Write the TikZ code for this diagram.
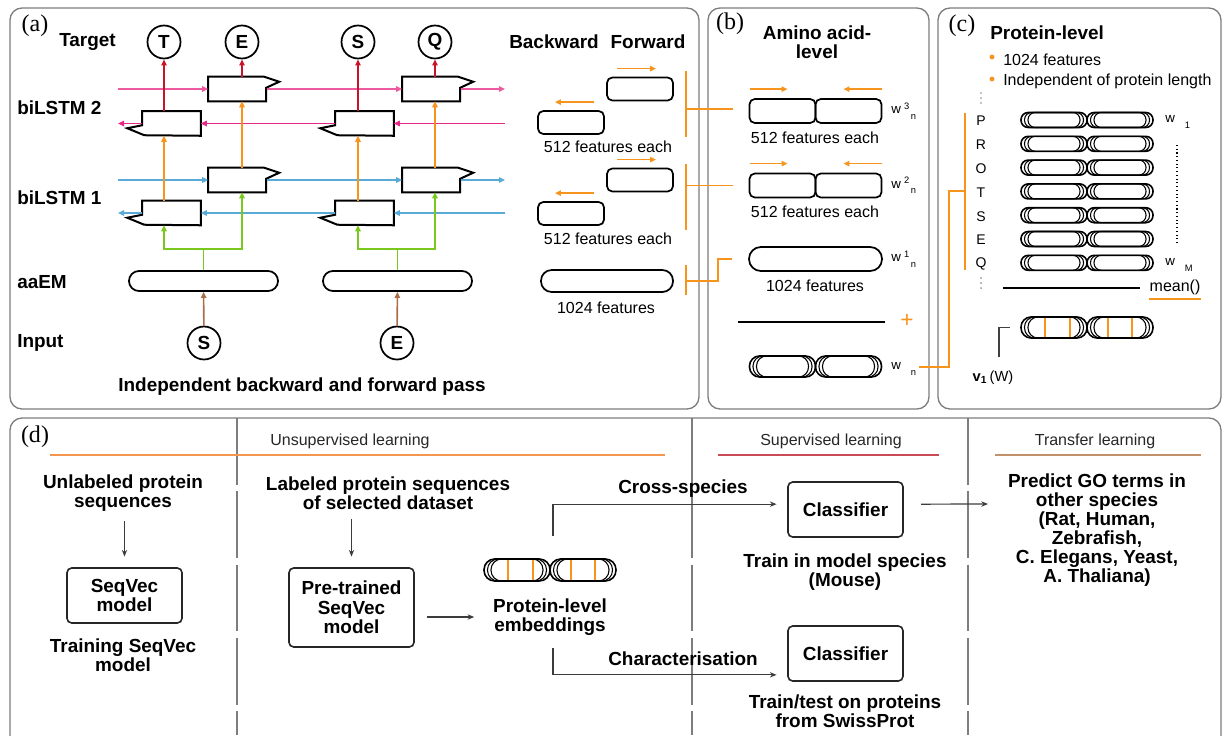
\documentclass[tikz,border=0pt]{standalone}
\usepackage{fontspec}
\setmainfont{Liberation Sans}
\newfontfamily\tagfont{Liberation Serif}
\usepackage{xcolor}
\usetikzlibrary{
    arrows.meta,
    positioning,
    calc
}

\definecolor{fwdpink}{RGB}{238,90,160}
\definecolor{bwdpink}{RGB}{232,40,135}
\definecolor{lstmblue}{RGB}{90,170,215}
\definecolor{targetred}{RGB}{200,20,40}
\definecolor{lstmorange}{RGB}{247,148,29}
\definecolor{lstmgreen}{RGB}{122,200,30}
\definecolor{embbrown}{RGB}{170,110,70}
\definecolor{framegray}{RGB}{125,125,125}
\definecolor{flowgray}{RGB}{60,60,60}
\definecolor{suplred}{RGB}{200,75,85}
\definecolor{transbrown}{RGB}{195,145,105}
\definecolor{unsuporange}{RGB}{245,150,80}

% w with raised and lowered index
\newcommand{\wlabel}[2]{w\hspace{2.5pt}\raisebox{3.5pt}{\fontsize{7}{7}\selectfont #1}\hspace{1pt}\raisebox{-4pt}{\fontsize{7}{7}\selectfont #2}}

% one embedding: two halves, each with nested rounded outlines
\newcommand{\embbody}[2]{%
    \foreach \xa/\xb in {-66/0,0/66}{
        \draw[embline, rounded corners=#2] (\xa,-#1/2) rectangle (\xb,#1/2);
        \foreach \dd in {3.5,7}
            \draw[embinner, rounded corners=#2] (\xa+\dd,-#1/2) rectangle (\xb-\dd,#1/2);
    }
    \coordinate (-w) at (-66,0);
    \coordinate (-n) at (0,-#1/2);
}

\tikzset{
    panel/.style={draw=framegray, line width=1pt, rounded corners=9pt},
    tagtxt/.style={font=\tagfont\fontsize{18}{18}\selectfont, inner sep=0pt},
    hd/.style={font=\bfseries\fontsize{14.2}{14.5}\selectfont, align=center, inner sep=0pt},
    rowlab/.style={hd, anchor=west},
    note/.style={font=\fontsize{12}{14}\selectfont, inner sep=0pt},
    letter/.style={font=\fontsize{10.5}{12}\selectfont, inner sep=0pt},
    wlab/.style={font=\fontsize{10}{12}\selectfont, inner sep=0pt, anchor=west},
    token/.style={circle, draw, line width=1.3pt, minimum size=24.75pt, inner sep=0pt,
        font=\bfseries\fontsize{14.2}{14.5}\selectfont},
    cell/.style={minimum width=43.5pt, minimum height=18pt, inner sep=0pt},
    celledge/.style={line width=1.5pt, line join=miter},
    capsule/.style={draw, line width=1.3pt, rounded corners=7.4pt, inner sep=0pt},
    featbox/.style={draw, line width=1.3pt, rounded corners=4pt, inner sep=0pt,
        minimum width=49.5pt, minimum height=17.25pt},
    embline/.style={line width=1.2pt},
    embinner/.style={line width=0.8pt},
    redarr/.style={->, draw=targetred, line width=1.2pt},
    orarr/.style={->, draw=lstmorange, line width=1.2pt},
    grline/.style={draw=lstmgreen, line width=1.2pt},
    grarr/.style={grline, ->},
    brarr/.style={->, draw=embbrown, line width=1.2pt},
    pinkf/.style={->, draw=fwdpink, line width=1.2pt},
    pinkb/.style={->, draw=bwdpink, line width=1.2pt},
    bluef/.style={->, draw=lstmblue, line width=1.2pt},
    obr/.style={draw=lstmorange, line width=1.2pt},
    sumline/.style={draw=black, line width=1.2pt},
    divider/.style={draw=framegray, line width=0.8pt, dash pattern=on 50pt off 5pt},
    flowbox/.style={hd, draw=black!85, line width=1.2pt, rounded corners=3.5pt,
        minimum width=86.25pt, minimum height=41.25pt},
    flowarr/.style={-{Stealth[length=5pt,width=4pt]}, draw=flowgray, line width=0.9pt},
    pics/emb/.style 2 args={code={\embbody{#1}{#2}}},
    pics/embs/.style 2 args={code={
        \embbody{#1}{#2}
        \foreach \sx in {-42,-17,21,45}
            \draw[lstmorange, line width=1pt] (\sx,-#1/2+1) -- (\sx,#1/2-1);
    }}
}

\begin{document}
\begin{tikzpicture}[x=0.75pt, y=-0.75pt, >={Triangle[length=4.5pt,width=4pt]}]
    \useasboundingbox (0,0) rectangle (1223,735);

    % Panels
    \draw[panel] (10,8) rectangle (699,409);
    \draw[panel] (708,8) rectangle (929,409);
    \draw[panel] (938,8) rectangle (1221,409);
    \draw[panel] (10,418) rectangle (1221,770);
    \node[tagtxt] (tagA) at (35,26) {(a)};
    \node[tagtxt] (tagB) at (730,24) {(b)};
    \node[tagtxt] (tagC) at (962,26) {(c)};
    \node[tagtxt] (tagD) at (35,437) {(d)};

    % (a) row labels
    \node[rowlab] (lTarget) at (59,42) {Target};
    \node[rowlab] (lL2) at (17,108) {biLSTM 2};
    \node[rowlab] (lL1) at (17,198) {biLSTM 1};
    \node[rowlab] (lEM) at (17,282) {aaEM};
    \node[rowlab] (lIn) at (17,343) {Input};

    % Targets and inputs
    \node[token] (tT) at (164,42) {T};
    \node[token] (tE) at (242,42) {E};
    \node[token] (tS) at (358,42) {S};
    \node[token] (tQ) at (435,42) {Q};
    \node[token] (iS) at (204,343) {S};
    \node[token] (iE) at (397,343) {E};

    % aaEM
    \node[capsule, minimum width=111.75pt, minimum height=15pt] (aa1) at (203.5,281) {};
    \node[capsule, minimum width=111.75pt, minimum height=15pt] (aa2) at (397.5,281) {};

    % LSTM cells
    \node[cell] (f2a) at (237.5,89) {};
    \node[cell] (f2b) at (431.5,89) {};
    \node[cell] (b2a) at (171.5,123.5) {};
    \node[cell] (b2b) at (364.5,123.5) {};
    \node[cell] (f1a) at (237.5,180) {};
    \node[cell] (f1b) at (431.5,180) {};
    \node[cell] (b1a) at (171.5,213) {};
    \node[cell] (b1b) at (364.5,213) {};
    \foreach \c in {f2a,f2b,f1a,f1b}
        \draw[celledge] (\c.north west) -- ++(56,0) -- ++(15,5) -- ++(-13,6) |- (\c.south west) -- cycle;
    \foreach \c in {b2a,b2b,b1a,b1b}
        \draw[celledge] (\c.north east) -- (\c.north west) -- ++(0,14) -- ++(-15,3) -- ++(17,7) -- (\c.south east) -- cycle;

    % Recurrent lines
    \coordinate (l2f) at (118,89);    \coordinate (r2f) at (505,89);
    \coordinate (l2b) at (118,123.5); \coordinate (r2b) at (505,123.5);
    \coordinate (l1f) at (118,180);   \coordinate (r1f) at (505,180);
    \coordinate (l1b) at (118,213);   \coordinate (r1b) at (505,213);
    \draw[pinkf] (l2f) -- (f2a);
    \draw[pinkf] (f2a) -- (f2b);
    \draw[pinkf] (f2b) -- (r2f);
    \draw[pinkb] (r2b) -- (b2b);
    \draw[pinkb] (b2b) -- (b2a);
    \draw[pinkb] (b2a) -- (l2b);
    \draw[bluef] (l1f) -- (f1a);
    \draw[bluef] (f1a) -- (f1b);
    \draw[bluef] (f1b) -- (r1f);
    \draw[bluef] (r1b) -- (b1b);
    \draw[bluef] (b1b) -- (b1a);
    \draw[bluef] (b1a) -- (l1b);

    % Vertical flow
    \draw[redarr] (b2a.north -| tT) -- (tT);
    \draw[redarr] (f2a.north -| tE) -- (tE);
    \draw[redarr] (b2b.north -| tS) -- (tS);
    \draw[redarr] (f2b.north -| tQ) -- (tQ);
    \draw[orarr] (b1a.north -| tT) -- (b2a.south -| tT);
    \draw[orarr] (f1a.north -| tE) -- (f2a.south -| tE);
    \draw[orarr] (b1b.north -| tS) -- (b2b.south -| tS);
    \draw[orarr] (f1b.north -| tQ) -- (f2b.south -| tQ);
    \draw[grline] (aa1.north) -- ++(0,-21) coordinate (g1);
    \draw[grline] (aa2.north) -- ++(0,-21) coordinate (g2);
    \draw[grarr] (g1) -| (b1a.south -| tT);
    \draw[grarr] (g1) -| (f1a.south -| tE);
    \draw[grarr] (g2) -| (b1b.south -| tS);
    \draw[grarr] (g2) -| (f1b.south -| tQ);
    \draw[brarr] (iS) -- (aa1);
    \draw[brarr] (iE) -- (aa2);

    \node[hd] (capA) at (302,387) {Independent backward and forward pass};

    % (a) feature blocks
    \node[hd] (lBack) at (554,42) {Backward};
    \node[hd] (lFwd) at (648,42) {Forward};
    \node[featbox] (fo2) at (640,89) {};
    \node[featbox] (bo2) at (571,122.5) {};
    \node[note] (n2) at (608,147) {512 features each};
    \node[featbox] (fo1) at (640,180) {};
    \node[featbox] (bo1) at (571,213.5) {};
    \node[note] (n1) at (608,239) {512 features each};
    \node[capsule, minimum width=99pt, minimum height=16.5pt, rounded corners=8pt] (aaR) at (607,281) {};
    \node[note] (n0) at (606,308) {1024 features};
    \foreach \b in {fo2,fo1}
        \draw[orarr] ([shift={(11,-8)}]\b.north west) -- ++(39,0);
    \foreach \b in {bo2,bo1}
        \draw[orarr] ([shift={(-11,-8)}]\b.north east) -- ++(-39,0);

    % Brackets to (b)
    \draw[obr] (686,71) -- (686,137);
    \draw[obr] (686,164) -- (686,230);
    \draw[obr] (686,265) -- (686,295);
    \coordinate (k3) at (686,109);
    \coordinate (k2) at (686,185.5);
    \coordinate (k1) at (686,281);

    % (b) amino acid level
    \node[hd] (lAmino) at (817,42.5) {Amino acid-\\level};
    \node[featbox, minimum height=18pt] (w3l) at (782.5,111) {};
    \node[featbox, minimum height=18pt] (w3r) at (848.5,111) {};
    \node[wlab] (w3t) at (891,111) {\wlabel{3}{n}};
    \node[note] (n3b) at (815,138) {512 features each};
    \node[featbox, minimum height=18pt] (w2l) at (782.5,185.5) {};
    \node[featbox, minimum height=18pt] (w2r) at (848.5,185.5) {};
    \node[wlab] (w2t) at (891,185.5) {\wlabel{2}{n}};
    \node[note] (n2b) at (815,212) {512 features each};
    \foreach \b in {w3l,w2l}
        \draw[orarr] ([shift={(1,-9)}]\b.north west) -- ++(38,0);
    \foreach \b in {w3r,w2r}
        \draw[orarr] ([shift={(0,-9)}]\b.north east) -- ++(-39,0);
    \node[capsule, minimum width=99.75pt, minimum height=18pt, rounded corners=8.9pt] (aaB) at (815.5,259) {};
    \node[wlab] (w1t) at (891,259) {\wlabel{1}{n}};
    \node[note] (n1b) at (815,286) {1024 features};
    \draw[sumline] (738,322) -- (885,322);
    \node[font=\fontsize{17}{17}\selectfont, text=lstmorange, inner sep=0pt] (plus) at (907,321) {+};
    \pic (wn) at (815.5,366.5) {emb={21}{7.5pt}};
    \node[wlab] (wnt) at (891,367) {\wlabel{\phantom{1}}{n}};

    \draw[obr] (k3) -- ([xshift=-12pt]w3l.west |- k3);
    \draw[obr] (k2) -- ([xshift=-12pt]w2l.west);
    \draw[obr] (k1) -- ++(32,0) |- ([xshift=-12pt]aaB.west);

    % (c) protein level
    \node[hd, anchor=west] (lProt) at (990,33) {Protein-level};
    \fill[lstmorange] (992,57) circle (1.8pt);
    \fill[lstmorange] (992,79) circle (1.8pt);
    \node[note, anchor=west] (bl1) at (1003,60) {1024 features};
    \node[note, anchor=west] (bl2) at (1003,81) {Independent of protein length};
    \foreach \yy in {93,98,103,278,283,288}
        \fill (981,\yy) circle (0.55pt);
    \foreach \l [count=\i from 0] in {P,R,O,T,S,E,Q} {
        \node[letter] (s\l) at (981,121+23.8*\i) {\l};
        \pic (r\i) at (1087,120+23.8*\i) {emb={15}{5.4pt}};
    }
    \node[wlab] (wc1) at (1165,120) {\wlabel{\phantom{1}}{1}};
    \node[wlab] (wcM) at (1165,263) {\wlabel{\phantom{1}}{M}};
    \draw[dotted, line width=0.8pt] (1177,145) -- (1177,245);
    \draw[sumline] (1003,288) -- (1140,288);
    \node[note] (mean) at (1175,287) {mean()};
    \draw[lstmorange, line width=1.3pt] ([yshift=-3pt]mean.south west) -- ([yshift=-3pt]mean.south east);
    \pic (vC) at (1087,327.5) {embs={21}{7.5pt}};
    \node[note, font=\fontsize{11}{13}\selectfont] (vlab) at (993,378) {\textbf{v}\textsubscript{\textbf{1}}\,(W)};
    \coordinate (vk) at (999,357);
    \draw[draw=black!75, line width=0.8pt] (vk) |- ([xshift=-8pt]vC-w);

    % Orange link (b) -> (c)
    \draw[obr] (965,113) -- (965,270);
    \coordinate (cjoin) at (965,191);
    \draw[obr] ([xshift=2pt]wnt.east) -| ($(cjoin)+(-16,0)$) -- (cjoin);

    % (d) learning stages
    \draw[divider] (237,418) -- (237,735);
    \draw[divider] (692,418) -- (692,735);
    \draw[divider] (968,418) -- (968,735);
    \node[note, text=black!85] (hUnsup) at (350,441) {Unsupervised learning};
    \draw[unsuporange, line width=1.3pt] (50,455) -- (665,455);
    \node[note, text=black!85] (hSup) at (831,441) {Supervised learning};
    \draw[suplred, line width=1.3pt] (718,455) -- (939,455);
    \node[note, text=black!85] (hTrans) at (1095,441) {Transfer learning};
    \draw[transbrown, line width=1.3pt] (995,455) -- (1201,455);

    \node[hd] (unl) at (123,493) {Unlabeled protein\\sequences};
    \node[flowbox] (seqvec) at (124.5,595.5) {SeqVec\\model};
    \node[hd] (trn) at (123,655) {Training SeqVec\\model};
    \node[hd] (lab) at (388,493) {Labeled protein sequences\\of selected dataset};
    \node[flowbox, minimum width=93.75pt, minimum height=59.25pt] (pre) at (351.5,607.5) {Pre-trained\\SeqVec\\model};
    \pic (embD) at (550,570) {embs={22}{8pt}};
    \node[hd] (embtxt) at (550,617) {Protein-level\\embeddings};
    \node[hd] (lCross) at (683,489) {Cross-species};
    \node[flowbox] (cls1) at (845.5,509.5) {Classifier};
    \node[hd] (tr1) at (845,572) {Train in model species\\(Mouse)};
    \node[hd] (lChar) at (683,659) {Characterisation};
    \node[flowbox] (cls2) at (845.5,653.5) {Classifier};
    \node[hd] (tr2) at (845,711) {Train/test on proteins\\from SwissProt};
    \node[hd, font=\bfseries\fontsize{14.2}{14.2}\selectfont] (pred) at (1097,530)
        {Predict GO terms in\\other species\\(Rat, Human,\\Zebrafish,\\C. Elegans, Yeast,\\A. Thaliana)};

    \coordinate (cs) at (553,536);
    \coordinate (ch) at (553,648);
    \coordinate (pin) at (988,504);
    \draw[flowarr, shorten <=7pt, shorten >=8pt] (unl.south -| seqvec.north) -- (seqvec.north);
    \draw[flowarr, shorten <=7pt, shorten >=8pt] (lab.south -| pre.north) -- (pre.north);
    \draw[flowarr, shorten <=9pt, shorten >=14pt] (pre.east |- embtxt) -- (embtxt.west);
    \draw[flowarr] (cs) |- ([xshift=-8pt,yshift=4pt]cls1.west);
    \draw[flowarr] (ch) |- ([xshift=-8pt,yshift=-16pt]cls2.west);
    \draw[flowarr] ([xshift=13pt,yshift=4pt]cls1.east) -- (pin);
\end{tikzpicture}
\end{document}
